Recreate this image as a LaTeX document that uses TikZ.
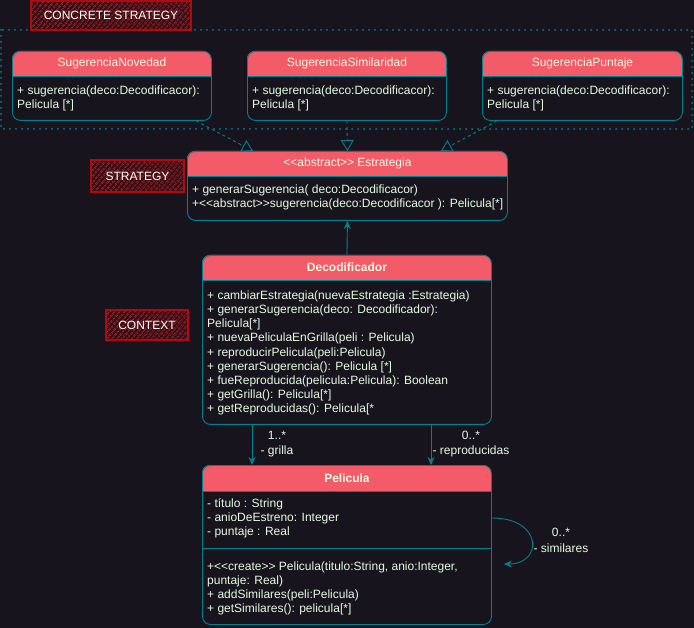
\documentclass[tikz,border=0pt]{standalone}
\usepackage{fontspec}
\setmainfont{Liberation Sans}
\usetikzlibrary{arrows.meta,patterns.meta,calc}
\definecolor{bgdark}{HTML}{18141D}
\definecolor{hdrred}{HTML}{F45B69}
\definecolor{tealline}{HTML}{028090}
\definecolor{txtlight}{HTML}{E4FDE1}
\definecolor{tagline}{HTML}{B00A10}
\definecolor{taghatch}{HTML}{9E0E18}
\definecolor{tagfill}{HTML}{3A0C12}
\tikzset{
  classbox/.style={draw=tealline, rounded corners=8pt, line width=0.9pt, inner sep=0pt},
  classtxt/.style={text=txtlight, font=\fontsize{12}{14.2}\selectfont, align=left, inner sep=0pt, anchor=north west},
  hdrtxt/.style={text=txtlight, font=\fontsize{12}{14}\selectfont, inner sep=0pt},
  multtxt/.style={text=txtlight, font=\fontsize{12}{15.5}\selectfont, align=center, inner sep=0pt},
  tagbox/.style={draw=tagline, line width=1.3pt, preaction={fill=tagfill}, pattern={Lines[angle=50, distance=4pt, line width=1.2pt]}, pattern color=taghatch, text=white, font=\fontsize{12}{14}\selectfont, inner sep=0pt},
  assoc/.style={draw=tealline, line width=0.9pt, -{Stealth[length=8pt, width=7pt]}},
  realize/.style={draw=tealline, line width=0.9pt, dash pattern=on 3pt off 3pt, -{Triangle[open, length=11pt, width=13pt]}},
}
% class box: name, left, top, width, height, header height
\newcommand{\umlclass}[6]{\fill[bgdark, rounded corners=8pt] (#2,#3) rectangle ++(#4,#5); \fill[hdrred] (#2,#3+#6) [rounded corners=8pt] -- (#2,#3) -- (#2+#4,#3) [sharp corners] -- (#2+#4,#3+#6) -- cycle; \draw[tealline, line width=0.9pt] (#2,#3+#6) -- (#2+#4,#3+#6); \node[classbox, anchor=north west, minimum width=#4pt, minimum height=#5pt] (#1) at (#2,#3) {};}

\begin{document}
\begin{tikzpicture}[x=1pt, y=-1pt]
        \fill[bgdark] (0,0) rectangle (694,628);
        \useasboundingbox (0,0) rectangle (694,628);

        % concrete strategies
        \draw[tealline, line width=2pt, line cap=round, dash pattern=on 0pt off 6pt] (1,30) rectangle (692,129);
        \node[tagbox, minimum width=160pt, minimum height=29pt] (ctag) at (111,15.5) {CONCRETE STRATEGY};
        \umlclass{nov}{12}{51}{199}{69}{25}
        \umlclass{sim}{247}{51}{199}{69}{25}
        \umlclass{pun}{482}{51}{200}{69}{25}
        \node[hdrtxt] (novT) at ([yshift=-12.5pt]nov.north) {SugerenciaNovedad};
        \node[hdrtxt] (simT) at ([yshift=-12.5pt]sim.north) {SugerenciaSimilaridad};
        \node[hdrtxt] (punT) at ([yshift=-12.5pt]pun.north) {SugerenciaPuntaje};
        \node[classtxt] (novB) at (17,85.5) {+ sugerencia(deco:Decodificacor):\\Pelicula [*]};
        \node[classtxt] (simB) at (252,85.5) {+ sugerencia(deco:Decodificacor):\\Pelicula [*]};
        \node[classtxt] (punB) at (487,85.5) {+ sugerencia(deco:Decodificacor):\\Pelicula [*]};

        % strategy
        \node[tagbox, minimum width=93pt, minimum height=32pt] (stag) at (137.5,176) {STRATEGY};
        \umlclass{est}{187}{151}{320}{69}{25}
        \node[hdrtxt] (estT) at ([yshift=-12.5pt]est.north) {<{}<abstract>{}> Estrategia};
        \node[classtxt] (estB) at (192,184.5) {+ generarSugerencia( deco:Decodificacor)\\+<{}<abstract>{}>sugerencia(deco:Decodificacor ): Pelicula[*]};

        % context
        \node[tagbox, minimum width=82pt, minimum height=30pt] (xtag) at (147,325) {CONTEXT};
        \umlclass{deco}{202}{255}{289}{169}{25}
        \node[hdrtxt, font=\fontsize{12}{14}\selectfont\bfseries] (decoT) at ([yshift=-12.5pt]deco.north) {Decodificador};
        \node[classtxt] (decoB) at (207,290.5) {+ cambiarEstrategia(nuevaEstrategia :Estrategia)\\+ generarSugerencia(deco: Decodificador):\\Pelicula[*]\\+ nuevaPeliculaEnGrilla(peli : Pelicula)\\+ reproducirPelicula(peli:Pelicula)\\+ generarSugerencia(): Pelicula [*]\\+ fueReproducida(pelicula:Pelicula): Boolean\\+ getGrilla(): Pelicula[*]\\+ getReproducidas(): Pelicula[*};

        % pelicula
        \umlclass{peli}{202}{465}{289}{159}{26}
        \draw[tealline, line width=0.9pt] (peli.west |- 0,548) -- (peli.east |- 0,548);
        \node[hdrtxt, font=\fontsize{12}{14}\selectfont\bfseries] (peliT) at ([yshift=-13pt]peli.north) {Pelicula};
        \node[classtxt] (peliA) at (207,498.5) {- título : String\\- anioDeEstreno: Integer\\- puntaje : Real};
        \node[classtxt] (peliM) at (207,561.5) {+<{}<create>{}> Pelicula(titulo:String, anio:Integer,\\puntaje: Real)\\+ addSimilares(peli:Pelicula)\\+ getSimilares(): pelicula[*]};

        % arrows
        \draw[realize] ([xshift=-16pt]nov.south east) -- ([xshift=66pt]est.north west);
        \draw[realize] (sim.south) -- (est.north);
        \draw[realize] ([xshift=15pt]pun.south west) -- ([xshift=-67pt]est.north east);
        \draw[assoc] (deco.north) -- (est.south);
        \draw[assoc] ([xshift=50pt]deco.south west) -- ([xshift=50pt]peli.north west);
        \draw[assoc] ([xshift=229pt]deco.south west) -- ([xshift=229pt]peli.north west);
        \coordinate (simEnd) at ([xshift=12pt, yshift=-99pt]peli.north east);
        \draw[assoc] ([yshift=-53pt]peli.north east) .. controls (543,518) and (543,564) .. (simEnd);

        % text
        \node[multtxt] (grillaL) at (277,444) {1..*\\- grilla};
        \node[multtxt] (reproL) at (471,444) {0..*\\- reproducidas};
        \node[multtxt] (simL) at (561,540.5) {0..*\\- similares};
\end{tikzpicture}
\end{document}
